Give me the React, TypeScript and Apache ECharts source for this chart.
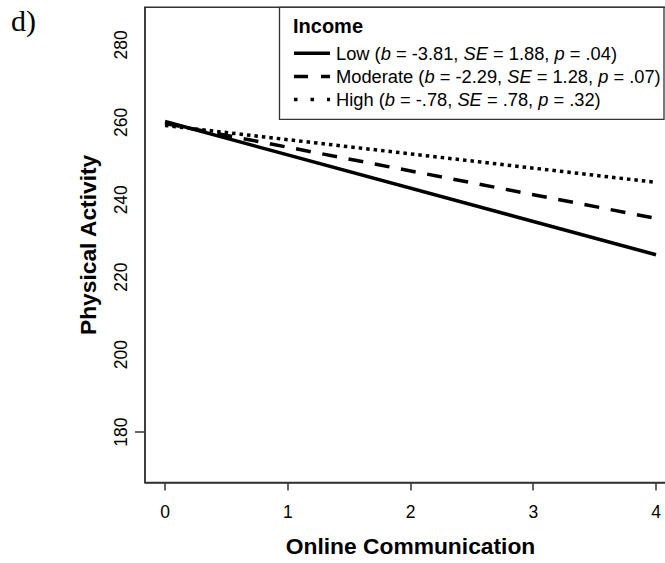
import React, { useEffect, useRef } from 'react';
import * as echarts from 'echarts';

// Data
const onlineComm = [0, 4];
const lowIncome = [260.2, 225.8];
const moderateIncome = [259.7, 235.2];
const highIncome = [259.2, 244.5];
const xTicks = [0, 1, 2, 3, 4];
const yTicks = [180, 200, 220, 240, 260, 280];
const yTickMarks = [180];
const seriesNames = ['Low', 'Moderate', 'High'];
const legendTitle = 'Income';
const legendLabels = [
  'Low ({i|b} = -3.81, {i|SE} = 1.88, {i|p} = .04)',
  'Moderate ({i|b} = -2.29, {i|SE} = 1.28, {i|p} = .07)',
  'High ({i|b} = -.78, {i|SE} = .78, {i|p} = .32)',
];

const FONT = 'Liberation Sans, Arial, Helvetica, sans-serif';

export default function App() {
  const ref = useRef<HTMLDivElement>(null);
  useEffect(() => {
    if (!ref.current) return;
    const chart = echarts.init(ref.current, undefined, { renderer: 'svg' });
    const dashes: any[] = ['solid', [15, 11.7], [3.5, 4]];
    const legendDashes: any[] = [null, [14, 13], [3.5, 13]];
    const allData = [lowIncome, moderateIncome, highIncome];
    const rowY = [53.3, 76.5, 99.5];
    const LFS = 18.3;
    const rich = {
      i: { fontStyle: 'italic', fontSize: LFS, fontFamily: FONT, fill: '#000', color: '#000' },
    };
    const legendGraphics: any[] = [
      {
        type: 'rect',
        shape: { x: 279.5, y: 7.3, width: 384.5, height: 112 },
        style: { fill: '#fff', stroke: '#333', lineWidth: 1.3 },
        z: 10,
      },
      {
        type: 'text',
        x: 293,
        y: 26,
        style: {
          text: legendTitle,
          fontSize: 20,
          fontWeight: 'bold',
          fontFamily: FONT,
          fill: '#000',
          verticalAlign: 'middle',
        },
        z: 11,
      },
    ];
    seriesNames.forEach((_, k) => {
      legendGraphics.push({
        type: 'line',
        shape: { x1: 294, y1: rowY[k], x2: 330, y2: rowY[k] },
        style: {
          stroke: '#000',
          lineWidth: 3.5,
          lineDash: legendDashes[k] || undefined,
          lineCap: 'butt',
        },
        z: 11,
      });
      legendGraphics.push({
        type: 'text',
        x: 336,
        y: rowY[k],
        style: {
          text: legendLabels[k],
          fontSize: LFS,
          fontFamily: FONT,
          fill: '#000',
          verticalAlign: 'middle',
          rich,
        },
        z: 11,
      });
    });

    chart.setOption({
      animation: false,
      backgroundColor: '#fff',
      grid: {
        left: 145,
        top: 7.3,
        width: 531,
        height: 475.2,
        outerBoundsMode: 'none',
        containLabel: false,
        show: true,
        borderColor: '#333',
        borderWidth: 1.5,
        backgroundColor: 'transparent',
      },
      xAxis: {
        type: 'value',
        min: -0.163,
        max: 4.163,
        name: 'Online Communication',
        nameLocation: 'middle',
        nameGap: 52,
        nameTextStyle: { fontSize: 22.8, fontWeight: 'bold', fontFamily: FONT, color: '#000' },
        axisLine: { show: true, onZero: false, lineStyle: { color: '#333', width: 1.5 } },
        axisTick: {
          show: true,
          length: 8,
          lineStyle: { color: '#333', width: 1.5 },
          customValues: xTicks,
        },
        axisLabel: {
          fontSize: 17.5,
          fontFamily: FONT,
          color: '#000',
          margin: 20,
          customValues: xTicks,
        },
        splitLine: { show: false },
      },
      yAxis: {
        type: 'value',
        min: 167,
        max: 289.7,
        name: 'Physical Activity',
        nameLocation: 'middle',
        nameGap: 46,
        nameTextStyle: { fontSize: 22.8, fontWeight: 'bold', fontFamily: FONT, color: '#000' },
        axisLine: { show: true, onZero: false, lineStyle: { color: '#333', width: 1.5 } },
        axisTick: {
          show: true,
          length: 10,
          lineStyle: { color: '#333', width: 1.5 },
          customValues: yTickMarks,
        },
        axisLabel: {
          fontSize: 17.5,
          fontFamily: FONT,
          color: '#000',
          rotate: 90,
          margin: 15,
          customValues: yTicks,
        },
        splitLine: { show: false },
      },
      series: seriesNames.map((name, k) => ({
        name,
        type: 'line',
        symbol: 'none',
        showSymbol: false,
        data: onlineComm.map((x, i) => [x, allData[k][i]]),
        lineStyle: { color: '#000', width: 3.5, type: dashes[k], cap: 'butt' },
        z: 3,
      })),
      graphic: [
        {
          type: 'text',
          left: 11,
          top: 5,
          style: {
            text: 'd)',
            fontSize: 30,
            fontFamily: 'Liberation Serif, Times New Roman, serif',
            fill: '#000',
          },
        },
        ...legendGraphics,
      ],
    });
    return () => chart.dispose();
  }, []);
  return (
    <div
      ref={ref}
      style={{ position: 'fixed', left: 0, top: 0, width: 665, height: 563, background: '#fff' }}
    />
  );
}
